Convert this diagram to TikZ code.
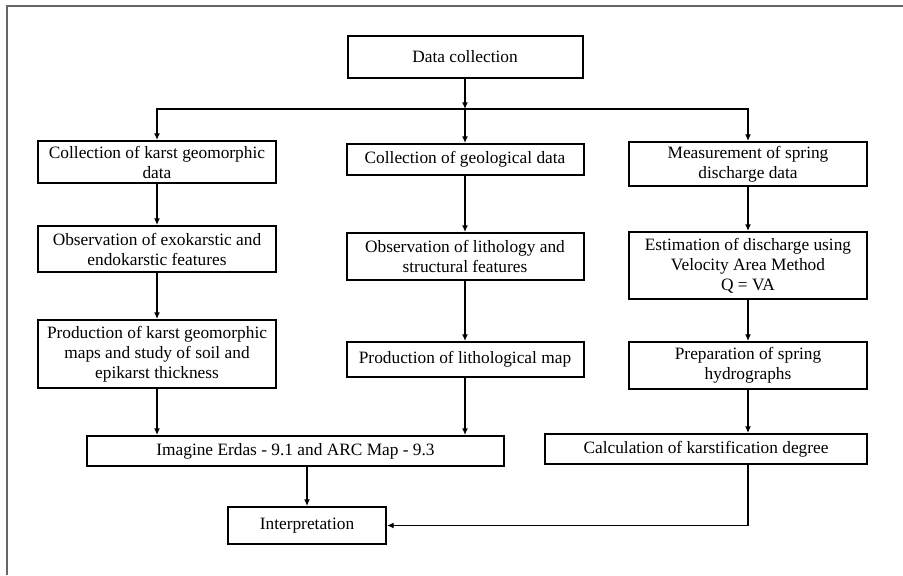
\documentclass[tikz,border=0pt]{standalone}
\usepackage{fontspec}
\setmainfont{Liberation Serif}
\usepackage{tikz}
\usetikzlibrary{arrows.meta}

\begin{document}
\begin{tikzpicture}[x=0.75pt, y=-0.75pt,
        stepbox/.style={draw, line width=1.5pt, align=center, inner sep=0pt,
                font=\fontsize{13}{15}\selectfont},
        flow/.style={line width=1.3pt, -{Latex[length=5pt,width=4.5pt]}}]

        \useasboundingbox (0,0) rectangle (903,575);

        %Frame
        \draw [line width=1.5pt, black!60] (903,6) -- (7,6) -- (7,575);

        %Data collection
        \node [stepbox, minimum width=176.25pt, minimum height=31.5pt] (collect) at (465,57) {Data collection};
        \coordinate (split) at (465,109);

        %Karst geomorphic column
        \node [stepbox, minimum width=178.5pt, minimum height=31.5pt] (karstdata) at (157,162) {Collection of karst geomorphic\\data};
        \node [stepbox, minimum width=178.5pt, minimum height=34.5pt] (exokarst) at (157,249) {Observation of exokarstic and\\endokarstic features};
        \node [stepbox, minimum width=178.5pt, minimum height=51pt] (karstmaps) at (157,354) {Production of karst geomorphic\\maps and study of soil and\\epikarst thickness};

        %Geological column
        \node [stepbox, minimum width=177.75pt, minimum height=23.25pt] (geodata) at (465,159.5) {Collection of geological data};
        \node [stepbox, minimum width=177.75pt, minimum height=35.25pt] (litho) at (465,256.5) {Observation of lithology and\\structural features};
        \node [stepbox, minimum width=177.75pt, minimum height=26.25pt] (lithomap) at (465,359.5) {Production of lithological map};

        %Spring discharge column
        \node [stepbox, minimum width=178.5pt, minimum height=33pt] (spring) at (748,164) {Measurement of spring\\discharge data};
        \node [stepbox, minimum width=178.5pt, minimum height=50.25pt] (velocity) at (748,265.5) {Estimation of discharge using\\Velocity Area Method\\Q = VA};
        \node [stepbox, minimum width=178.5pt, minimum height=35.25pt] (hydro) at (748,365.5) {Preparation of spring\\hydrographs};

        %Software and karstification
        \node [stepbox, minimum width=312.75pt, minimum height=22.5pt] (erdas) at (295.5,451) {Imagine Erdas - 9.1 and ARC Map - 9.3};
        \node [stepbox, minimum width=241.5pt, minimum height=22.5pt] (degree) at (706,449) {Calculation of karstification degree};

        %Interpretation
        \node [stepbox, minimum width=118.5pt, minimum height=27.75pt] (interp) at (307,525.5) {Interpretation};

        %Arrows
        \draw [flow] (collect) -- (split);
        \draw [flow] (split) -| (karstdata);
        \draw [flow] (split) -- (geodata);
        \draw [flow] (split) -| (spring);

        \draw [flow] (karstdata) -- (exokarst);
        \draw [flow] (exokarst) -- (karstmaps);
        \draw [flow] (geodata) -- (litho);
        \draw [flow] (litho) -- (lithomap);
        \draw [flow] (spring) -- (velocity);
        \draw [flow] (velocity) -- (hydro);

        \draw [flow] (karstmaps) -- (karstmaps |- erdas.north);
        \draw [flow] (lithomap) -- (lithomap |- erdas.north);
        \draw [flow] (hydro) -- (hydro |- degree.north);
        \draw [flow] (interp |- erdas.south) -- (interp);
        \draw [flow] (hydro |- degree.south) |- (interp.east);

\end{tikzpicture}
\end{document}
